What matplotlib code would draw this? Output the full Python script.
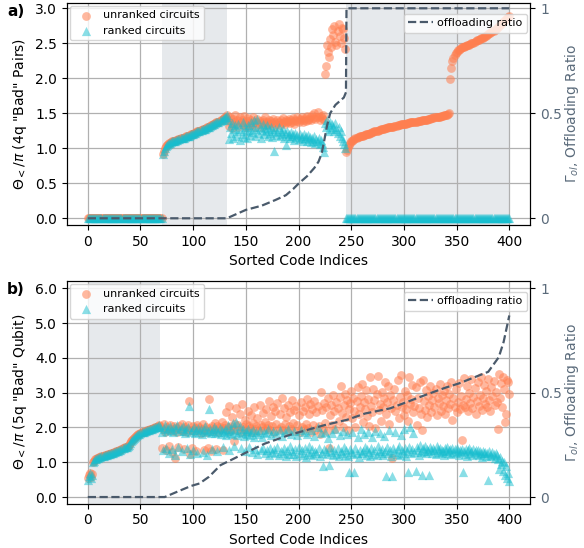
import numpy as np
import matplotlib
matplotlib.use("Agg")
import matplotlib.pyplot as plt
from matplotlib.ticker import FormatStrFormatter

# ---------------- panel a: 4q "bad" pairs ----------------
a_zero_block = [0.0] * 71                      # codes 0-70
a_shared_rise = [                               # codes 71-132 (both series)
    0.92, 0.96, 1.00, 1.03, 1.05, 1.06, 1.07, 1.08, 1.09, 1.10,
    1.10, 1.11, 1.11, 1.12, 1.12, 1.13, 1.13, 1.14, 1.14, 1.15,
    1.15, 1.16, 1.17, 1.17, 1.18, 1.18, 1.19, 1.20, 1.20, 1.21,
    1.22, 1.22, 1.23, 1.24, 1.24, 1.25, 1.26, 1.26, 1.27, 1.28,
    1.28, 1.29, 1.30, 1.31, 1.31, 1.32, 1.33, 1.33, 1.34, 1.35,
    1.36, 1.37, 1.37, 1.38, 1.39, 1.40, 1.41, 1.42, 1.43, 1.44, 1.45, 1.47]
a_unranked_band = [                             # codes 133-224
    1.40, 1.32, 1.45, 1.36, 1.29, 1.42, 1.38, 1.47, 1.34, 1.40,
    1.31, 1.44, 1.37, 1.41, 1.33, 1.46, 1.35, 1.30, 1.39, 1.43,
    1.36, 1.32, 1.40, 1.35, 1.44, 1.38, 1.31, 1.37, 1.42, 1.34,
    1.39, 1.36, 1.30, 1.41, 1.37, 1.45, 1.33, 1.38, 1.35, 1.40,
    1.34, 1.39, 1.36, 1.42, 1.31, 1.38, 1.35, 1.41, 1.37, 1.33,
    1.40, 1.36, 1.43, 1.38, 1.34, 1.41, 1.37, 1.39, 1.42, 1.36,
    1.40, 1.38, 1.43, 1.35, 1.41, 1.39, 1.44, 1.37, 1.42, 1.40,
    1.45, 1.38, 1.41, 1.43, 1.39, 1.46, 1.40, 1.42, 1.44, 1.41,
    1.47, 1.43, 1.50, 1.42, 1.45, 1.52, 1.44, 1.40, 1.46,
    1.43, 1.48, 1.41]
a_unranked_high = [                             # codes 225-244
    2.06, 2.18, 2.47, 2.37, 2.31, 2.56, 2.45, 2.70, 2.62, 2.75,
    2.52, 2.47, 2.68, 2.77, 2.61, 2.51, 2.72, 2.70, 2.58, 2.42]
a_unranked_low_curve = [                        # codes 245-343
    0.95, 0.98, 1.02, 1.05, 1.08, 1.10, 1.11, 1.12, 1.13, 1.14,
    1.15, 1.16, 1.16, 1.17, 1.17, 1.18, 1.18, 1.19, 1.19, 1.20,
    1.20, 1.21, 1.21, 1.22, 1.22, 1.23, 1.23, 1.24, 1.24, 1.25,
    1.25, 1.26, 1.26, 1.27, 1.27, 1.28, 1.28, 1.29, 1.29, 1.29,
    1.30, 1.30, 1.30, 1.31, 1.31, 1.31, 1.32, 1.32, 1.32, 1.33,
    1.33, 1.33, 1.34, 1.34, 1.34, 1.35, 1.35, 1.35, 1.36, 1.36,
    1.36, 1.37, 1.37, 1.37, 1.38, 1.38, 1.38, 1.38, 1.39, 1.39,
    1.39, 1.39, 1.40, 1.40, 1.40, 1.41, 1.41, 1.41, 1.42, 1.42,
    1.42, 1.43, 1.43, 1.43, 1.44, 1.44, 1.44, 1.45, 1.45, 1.45,
    1.46, 1.46, 1.46, 1.47, 1.47, 1.48, 1.48, 1.49, 1.50]
a_unranked_top_curve = [                        # codes 344-400
    1.99, 2.14, 2.24, 2.29, 2.33, 2.36, 2.38, 2.40, 2.41, 2.42,
    2.43, 2.44, 2.44, 2.45, 2.46, 2.46, 2.47, 2.48, 2.48, 2.49,
    2.50, 2.51, 2.51, 2.52, 2.53, 2.54, 2.54, 2.55, 2.56, 2.57,
    2.58, 2.58, 2.59, 2.60, 2.61, 2.62, 2.63, 2.64, 2.65, 2.66,
    2.67, 2.68, 2.69, 2.70, 2.72, 2.73, 2.74, 2.76, 2.77, 2.79,
    2.80, 2.82, 2.83, 2.84, 2.86, 2.87, 2.89]
a_ranked_band = [                               # codes 133-244
    1.40, 1.13, 1.30, 1.22, 1.36, 1.15, 1.27, 1.33, 1.18, 1.25,
    1.35, 1.12, 1.28, 1.21, 1.38, 1.16, 1.30, 1.24, 1.14, 1.33,
    1.26, 1.19, 1.37, 1.23, 1.30, 1.41, 1.17, 1.28, 1.42, 1.22,
    1.31, 1.14, 1.26, 1.35, 1.20, 1.29, 1.24, 1.33, 1.18, 1.27,
    1.22, 1.30, 1.16, 1.25, 0.96, 1.28, 1.19, 1.23, 1.31, 1.17,
    1.24, 1.20, 1.27, 1.14, 1.22, 1.04, 1.25, 1.18, 1.21, 1.15,
    1.23, 1.17, 1.20, 1.12, 1.22, 1.16, 1.19, 1.13, 1.21, 1.15,
    1.18, 1.11, 1.20, 1.14, 1.17, 1.10, 1.19, 1.13, 1.16, 1.09,
    1.15, 1.11, 1.17, 1.08, 1.13, 1.10, 1.14, 1.06, 1.12, 1.08,
    1.02, 0.94, 1.36, 1.30, 1.40, 1.25, 1.33, 1.38, 1.28, 1.35,
    1.31, 1.24, 1.36, 1.27, 1.22, 1.30, 1.18, 1.25, 1.14, 1.10, 1.06, 1.00]
a_ranked_tail = [0.0] * 156                     # codes 245-400

a_unranked = (a_zero_block + a_shared_rise + a_unranked_band + a_unranked_high
              + a_unranked_low_curve + a_unranked_top_curve)
a_ranked = a_zero_block + a_shared_rise + a_ranked_band + a_ranked_tail

a_ratio_idx = [0, 132, 150, 165, 178, 188, 195, 200, 208, 215, 219, 222, 224,
               227, 230, 235, 243, 245, 245.5, 400]
a_ratio_val = [0, 0, 0.04, 0.06, 0.087, 0.11, 0.14, 0.165, 0.20, 0.24, 0.27,
               0.31, 0.36, 0.44, 0.50, 0.54, 0.575, 0.60, 1.0, 1.0]
a_spans = [(70.5, 132), (245, 400)]

# ---------------- panel b: 5q "bad" qubit ----------------
b_unranked_start = [0.55, 0.62, 0.70, 0.58, 0.66]
b_ranked_start = [0.50, 0.60, 0.68, 0.54, 0.64]
b_shared_rise = [                               # codes 5-68 (both series)
    1.00, 1.05, 1.08, 1.10, 1.12, 1.13, 1.15, 1.16, 1.17, 1.18, 1.19,
    1.20, 1.21, 1.22, 1.23, 1.24, 1.25, 1.26, 1.27, 1.28, 1.29, 1.30,
    1.31, 1.32, 1.33, 1.35, 1.36, 1.38, 1.40, 1.42, 1.43, 1.44, 1.45,
    1.47, 1.50, 1.55,
    1.60, 1.65, 1.68, 1.71, 1.74, 1.76, 1.78, 1.80, 1.82, 1.84, 1.86,
    1.87, 1.88, 1.90, 1.91, 1.92, 1.93, 1.94, 1.95, 1.96, 1.97, 1.98,
    1.99, 2.00, 2.01, 2.02, 2.04, 2.06]
b_unranked_scatter = [                          # codes 69-400
    2.05, 1.42, 1.95, 2.10, 1.88, 1.35, 2.02, 1.92, 1.48, 2.08,
    1.97, 1.30, 1.90, 2.05, 1.12, 1.99, 1.86, 1.45, 2.03, 1.94,
    2.09, 1.91, 1.38, 2.01, 1.96, 1.87, 2.06, 2.77, 1.25, 1.93,
    1.40, 2.04, 1.89, 1.98, 1.32, 2.07, 1.92, 2.00, 1.85, 1.96,
    2.10, 1.36, 1.94, 2.02, 1.88, 1.41, 2.82, 1.99, 1.33, 2.05,
    1.90, 1.97, 2.12, 1.38, 2.03, 1.86, 2.00, 1.95, 2.15, 1.34,
    1.98, 2.08, 2.45, 1.92, 2.01, 2.62, 1.89, 2.04, 2.30, 1.96,
    1.62, 2.10, 2.55, 1.94, 2.06, 2.38, 1.88, 2.68, 2.02, 1.97,
    2.22, 2.09, 1.91, 2.48, 2.05, 1.99, 2.35, 1.86, 2.12, 2.58,
    1.95, 2.03, 2.28, 1.90, 2.65, 2.07, 2.00, 2.42, 1.93, 2.15,
    2.52, 1.98, 2.08, 2.75, 1.92, 2.33, 2.04, 2.60, 1.88, 2.46,
    2.11, 2.70, 1.96, 2.38, 2.02, 2.85, 1.94, 2.55, 2.09, 2.30,
    1.89, 2.66, 2.05, 2.44, 1.97, 2.78, 2.13, 2.50, 1.91, 2.62,
    2.07, 2.36, 1.86, 2.72, 2.01, 2.48, 1.95, 2.58, 2.10, 2.82,
    1.99, 2.40, 2.68, 1.88, 2.54, 2.06, 2.76, 1.94, 2.45, 2.63,
    2.03, 1.82, 3.01, 2.50, 1.97, 2.70, 2.12, 2.58, 1.90, 2.85,
    1.40, 2.35, 2.66, 2.08, 2.92, 2.47, 1.95, 2.74, 2.55, 2.18,
    2.88, 3.20, 2.42, 2.02, 2.64, 2.96, 2.30, 2.80, 1.92, 2.52,
    2.70, 3.05, 2.26, 2.86, 2.48, 2.00, 2.76, 3.15, 2.38, 2.60,
    2.90, 3.26, 2.15, 2.72, 2.54, 3.08, 2.34, 2.82, 2.05, 3.45,
    2.62, 2.44, 3.12, 2.78, 1.98, 2.95, 3.49, 2.50, 2.68, 2.20,
    3.02, 2.58, 2.84, 3.31, 2.40, 2.72, 3.18, 2.10, 2.92, 2.55,
    1.11, 2.80, 3.10, 2.46, 2.66, 3.36, 2.28, 2.88, 3.50, 2.60,
    2.74, 2.35, 3.05, 2.52, 2.94, 2.18, 3.45, 2.68, 2.82, 3.22,
    2.45, 2.62, 3.15, 2.06, 2.86, 2.56, 3.30, 2.40, 1.92, 3.36,
    2.76, 2.50, 3.08, 2.30, 2.90, 2.64, 3.20, 2.44, 2.78, 2.98,
    2.58, 3.12, 2.36, 2.84, 2.70, 3.25, 2.48, 2.92, 2.62, 3.04,
    2.40, 2.80, 3.18, 2.55, 2.96, 2.68, 3.32, 2.22, 2.86, 2.60,
    3.10, 2.44, 2.74, 3.28, 2.52, 2.90, 1.63, 2.66, 3.42, 2.58,
    2.82, 3.20, 2.46, 3.00, 2.70, 3.38, 2.56, 2.88, 3.14, 2.40,
    2.76, 3.30, 2.62, 2.94, 3.46, 2.50, 2.84, 3.22, 2.68, 3.06,
    2.58, 3.40, 2.78, 2.46, 3.16, 2.90, 3.34, 2.64, 3.02, 2.72,
    1.97, 3.55, 2.86, 3.28, 2.60, 3.44, 3.12, 2.16, 2.40, 3.36,
    3.31, 2.95]
b_ranked_scatter = [                            # codes 69-400
    2.02, 1.88, 1.35, 1.97, 2.06, 1.42, 1.91, 1.99, 1.28, 2.04,
    1.93, 1.38, 1.86, 2.01, 1.20, 1.95, 2.08, 1.45, 1.89, 1.98,
    1.33, 2.03, 1.90, 1.84, 1.96, 1.40, 2.00, 2.63, 1.24, 1.87,
    1.94, 1.36, 2.02, 1.85, 1.92, 1.27, 1.99, 1.88, 1.96, 1.82,
    1.30, 1.93, 2.05, 1.86, 1.21, 1.90, 2.53, 1.97, 1.84, 1.39,
    1.91, 2.00, 1.83, 1.95, 1.32, 1.88, 1.98, 1.80, 1.93, 1.44,
    1.86, 1.96, 1.78, 1.90, 2.08, 1.35, 1.84, 1.97, 1.81, 2.12,
    1.48, 1.92, 2.15, 1.79, 1.88, 2.05, 1.40, 1.85, 1.95, 1.76,
    1.33, 1.90, 1.82, 1.96, 1.45, 1.78, 1.87, 1.30, 1.93, 1.74,
    1.38, 1.86, 1.25, 1.80, 1.92, 1.36, 1.72, 1.42, 1.88, 1.28,
    1.83, 1.34, 1.95, 1.22, 1.41, 1.79, 1.30, 1.90, 1.37, 1.26,
    1.85, 1.44, 1.20, 1.93, 1.33, 1.76, 1.28, 1.40, 1.88, 1.18,
    1.35, 1.97, 1.24, 1.46, 1.82, 1.31, 1.25, 1.90, 1.38, 1.19,
    1.78, 1.43, 1.27, 1.94, 1.34, 1.22, 1.86, 1.40, 1.16, 1.80,
    1.30, 1.48, 1.24, 1.92, 1.37, 1.20, 1.75, 1.33, 1.28, 2.00,
    1.42, 1.18, 1.84, 1.26, 0.90, 1.39, 1.88, 1.31, 1.23, 1.70,
    0.92, 1.45, 1.29, 1.83, 1.21, 1.36, 1.96, 1.25, 1.40, 1.17,
    1.78, 1.32, 1.27, 1.90, 1.44, 1.22, 1.35, 1.81, 1.19, 0.71,
    1.38, 1.30, 1.86, 1.24, 0.73, 1.42, 1.28, 1.74, 1.16, 1.36,
    1.95, 1.26, 1.33, 1.80, 1.45, 1.21, 1.37, 1.88, 1.29, 1.18,
    1.40, 1.72, 1.25, 1.34, 1.90, 1.20, 1.46, 1.31, 1.84, 1.27,
    1.38, 1.22, 1.76, 1.33, 0.60, 1.43, 1.26, 1.92, 1.35, 1.19,
    0.60, 1.41, 1.30, 1.86, 1.24, 1.37, 1.48, 1.22, 1.79, 1.34,
    1.28, 1.95, 1.40, 1.18, 1.32, 0.73, 1.45, 2.00, 1.26, 1.38,
    1.84, 1.30, 0.75, 1.43, 1.35, 1.22, 1.50, 1.29, 0.62, 1.40,
    1.33, 1.47, 1.26, 1.38, 1.31, 0.63, 1.44, 1.36, 1.28, 1.41,
    1.34, 1.25, 1.46, 1.38, 1.30, 1.42, 1.27, 1.36, 1.33, 1.22,
    1.40, 1.31, 1.45, 1.28, 1.35, 1.37, 1.24, 1.42, 1.30, 1.38,
    1.26, 1.41, 1.33, 1.20, 1.36, 1.29, 1.39, 0.73, 1.32, 1.25,
    1.37, 1.18, 1.34, 1.40, 1.27, 1.31, 1.22, 1.38, 1.29, 1.35,
    1.24, 1.36, 1.20, 1.32, 1.28, 1.15, 1.33, 1.26, 1.30, 1.19,
    1.27, 0.49, 1.31, 1.22, 1.17, 1.29, 1.24, 1.12, 1.26, 1.20,
    1.08, 0.80, 1.16, 0.95, 1.05, 0.75, 1.00, 0.62, 0.88, 0.55,
    0.70, 0.45]

b_unranked = b_unranked_start + b_shared_rise + b_unranked_scatter
b_ranked = b_ranked_start + b_shared_rise + b_ranked_scatter

b_ratio_idx = [0, 73, 80, 87, 98, 106, 115, 126, 137, 151, 168, 190, 200, 225,
               246, 263, 287, 299, 324, 340, 352, 380, 390, 394.6, 400]
b_ratio_val = [0, 0, 0.015, 0.03, 0.053, 0.065, 0.097, 0.153, 0.18, 0.215,
               0.256, 0.295, 0.31, 0.345, 0.37, 0.40, 0.425, 0.448, 0.496,
               0.525, 0.544, 0.60, 0.67, 0.743, 0.87]
b_spans = [(0, 68.5)]

# ---------------- styling ----------------
ORANGE = "#ff7f50"
TEAL = "#17becf"
SHADE = "slategray"
RATIO = "#4a5a6b"
RIGHT_TXT = "#5b6b7b"

fig = plt.figure(figsize=(5.84, 5.48), dpi=100)

panels = [
    dict(rect=[0.1142, 0.5894, 0.794, 0.4057], unr=a_unranked, rk=a_ranked,
         ridx=a_ratio_idx, rval=a_ratio_val, spans=a_spans,
         ylim=(-0.096, 3.08), yticks=np.arange(0, 3.01, 0.5),
         ylabel=r'$\Theta_<$/$\pi$ (4q "Bad" Pairs)', scale=3.0, tag="a)",
         tag_y=0.993),
    dict(rect=[0.1142, 0.0808, 0.794, 0.4069], unr=b_unranked, rk=b_ranked,
         ridx=b_ratio_idx, rval=b_ratio_val, spans=b_spans,
         ylim=(-0.192, 6.218), yticks=np.arange(0, 6.01, 1.0),
         ylabel=r'$\Theta_<$/$\pi$ (5q "Bad" Qubit)', scale=6.0, tag="b)",
         tag_y=0.486),
]

for p in panels:
    ax = fig.add_axes(p["rect"])
    for lo, hi in p["spans"]:
        ax.axvspan(lo, hi, color=SHADE, alpha=0.17, lw=0, zorder=0)
    ax.grid(True, color="#b0b0b0", lw=0.9, zorder=0.5)
    ax.set_axisbelow(True)

    xu = np.arange(len(p["unr"]))
    xr = np.arange(len(p["rk"]))
    ax.scatter(xu, p["unr"], s=40, marker="o", color=ORANGE, alpha=0.55,
               lw=0, label="unranked circuits", zorder=2)
    ax.scatter(xr, p["rk"], s=44, marker="^", color=TEAL, alpha=0.5,
               lw=0, label="ranked circuits", zorder=3)

    ax.set_xlim(-20, 420)
    ax.set_xticks(np.arange(0, 401, 50))
    ax.set_ylim(*p["ylim"])
    ax.set_yticks(p["yticks"])
    ax.yaxis.set_major_formatter(FormatStrFormatter("%.1f"))
    ax.set_xlabel("Sorted Code Indices", fontsize=10)
    ax.set_ylabel(p["ylabel"], fontsize=10)
    ax.tick_params(labelsize=10)
    ax.legend(loc="upper left", fontsize=8, borderaxespad=0.3,
              handletextpad=0.6)

    ax2 = ax.twinx()
    ax2.plot(p["ridx"], p["rval"], ls="--", color=RATIO, lw=1.6,
             label="offloading ratio")
    ax2.set_ylim(p["ylim"][0] / p["scale"], p["ylim"][1] / p["scale"])
    ax2.set_yticks([0, 0.5, 1])
    ax2.set_yticklabels(["0", "0.5", "1"])
    ax2.tick_params(axis="y", labelcolor=RIGHT_TXT, labelsize=10)
    ax2.set_ylabel(r"$\Gamma_{ol}$, Offloading Ratio", color=RIGHT_TXT,
                   fontsize=10, labelpad=1)
    ax2.legend(loc="upper right", bbox_to_anchor=(1.0, 0.965), fontsize=8,
               borderaxespad=0.3, handlelength=2.2, handletextpad=0.4)

    fig.text(0.012, p["tag_y"], p["tag"], fontsize=11, fontweight="bold",
             va="top", ha="left")

fig.savefig("out.png", dpi=100)
